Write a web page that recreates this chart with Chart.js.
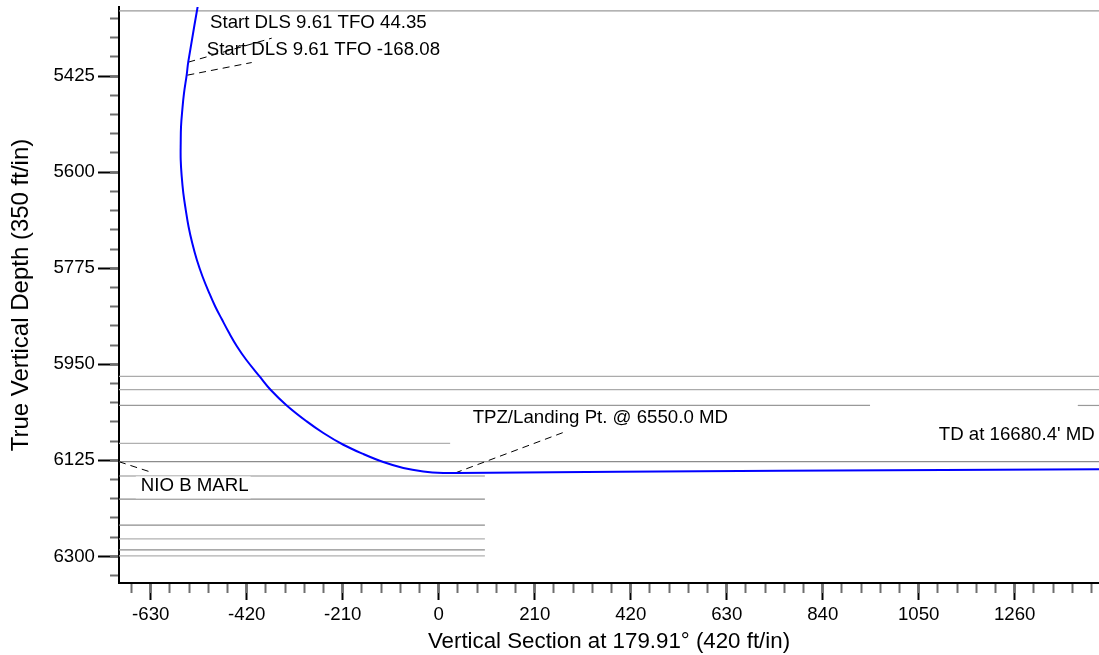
<!DOCTYPE html>
<html>
<head>
<meta charset="utf-8">
<title>Vertical Section</title>
<script src="https://cdn.jsdelivr.net/npm/chart.js@4.4.0/dist/chart.umd.min.js"></script>
<style>
  html, body { margin: 0; padding: 0; background: #fff; }
  #wrap { width: 1099px; height: 655px; position: relative; }
</style>
</head>
<body>
<div id="wrap"><canvas id="wellPlot"></canvas></div>
<script>
// wellbore path: vertical section (ft) and TVD (ft)
var pathVs  = [-521, -547.8, -551.3, -557.2, -560.9, -563.7, -564.4, -564.4, -562.2, -558.7,
               -553.4, -547.3, -539.2, -529.2, -516.7, -502.0, -488.9, -474.7, -458.7, -441.2,
               -421.1, -391.8, -367.9, -332.5, -288.8, -252.4, -208.7, -166.7, -121.2, -77.4,
               -33.7, 10.1, 39.4, 747, 1460];
var pathTvd = [5268, 5398.4, 5422.6, 5456, 5486.4, 5516.8, 5547, 5577.5, 5607.9, 5638.1,
               5668.5, 5698.9, 5729.2, 5759.6, 5790, 5820.2, 5844.7, 5867.6, 5892.6, 5917.5,
               5941.7, 5972.1, 5996.4, 6025, 6054.1, 6075.2, 6096.6, 6112.9, 6128.1, 6139,
               6145.2, 6148.1, 6148.1, 6144, 6141];

// formation tops (TVD) and horizontal extent (VS)
var formTvd  = [5306, 5972, 5996, 6025, 6025, 6094, 6127.5, 6153.5, 6195.5, 6243, 6268, 6288, 6299];
var formFrom = [-700, -700, -700, -700, 1398, -700, -700, -700, -700, -700, -700, -700, -700];
var formTo   = [1445, 1445, 1445, 943.5, 1445, 25, 1445, 101, 101, 101, 101, 101, 101];
var formShade = ['#9a9a9a', '#ababab', '#ababab', '#999', '#999', '#b0b0b0', '#8c8c8c',
                 '#8c8c8c', '#8c8c8c', '#8c8c8c', '#b0b0b0', '#8c8c8c', '#b0b0b0'];

// annotation leaders
var leadFromVs  = [-547.8, -549.9, 35.7, -699.4];
var leadFromTvd = [5399.5, 5423.2, 6148.1, 6127.5];
var leadToVs    = [-365.3, -409.1, 272.6, -627.8];
var leadToTvd   = [5355.8, 5400.2, 6074.2, 6147];

// annotation texts
var noteText  = ['Start DLS 9.61 TFO 44.35', 'Start DLS 9.61 TFO -168.08',
                 'TPZ/Landing Pt. @ 6550.0 MD', "TD at 16680.4' MD", 'NIO B MARL'];
var noteVs    = [-500.3, -507.5, 353.5, 1264.6, -533.8];
var noteTvd   = [5328.5, 5377.1, 6047.4, 6078.3, 6170.7];
var noteAlign = ['left', 'left', 'center', 'center', 'center'];
var noteBox   = [false, false, false, false, true];

// axes
var xTicks = [-630, -420, -210, 0, 210, 420, 630, 840, 1050, 1260];
var yTicks = [5425, 5600, 5775, 5950, 6125, 6300];
var xMin = -699.4, xMax = 1444.4;
var yMin = 5299, yMax = 6348.5;

var minorX = [], minorY = [];
for (var a = -672; a <= xMax; a += 42) minorX.push(a);
for (var b = 5320; b <= yMax; b += 35) minorY.push(b);

var fam = '"Liberation Sans", Arial, Helvetica, sans-serif';
var tickFont = { family: fam, size: 18.67 };

function pts(xs, ys) {
  return xs.map(function (v, i) { return { x: v, y: ys[i] }; });
}
function noPad(s) {
  s.paddingTop = 0; s.paddingBottom = 0; s.paddingLeft = 0; s.paddingRight = 0;
}
function plain(v) { return String(v); }

var datasets = [{
  data: pts(pathVs, pathTvd),
  borderColor: '#0000ff',
  borderWidth: 2,
  tension: 0.4,
  clip: 0
}];

for (var i = 0; i < leadFromVs.length; i++) {
  datasets.push({
    data: [{ x: leadFromVs[i], y: leadFromTvd[i] }, { x: leadToVs[i], y: leadToTvd[i] }],
    borderColor: '#000',
    borderWidth: 1,
    borderDash: [7, 5],
    tension: 0,
    clip: 0
  });
}

for (var k = 0; k < formTvd.length; k++) {
  datasets.push({
    data: [{ x: formFrom[k], y: formTvd[k] }, { x: formTo[k], y: formTvd[k] }],
    borderColor: formShade[k],
    borderWidth: 1.2,
    tension: 0,
    clip: 0
  });
}

var notesPlugin = {
  id: 'notes',
  afterDatasetsDraw: function (chart) {
    var ctx = chart.ctx;
    var xs = chart.scales.x, ys = chart.scales.y;
    ctx.save();
    ctx.font = '18.67px ' + fam;
    ctx.textBaseline = 'middle';
    for (var n = 0; n < noteText.length; n++) {
      var px = xs.getPixelForValue(noteVs[n]);
      var py = ys.getPixelForValue(noteTvd[n]);
      var w = ctx.measureText(noteText[n]).width;
      var left = noteAlign[n] === 'left' ? px : px - w / 2;
      if (noteBox[n]) {
        ctx.fillStyle = '#fff';
        ctx.fillRect(left - 5, py - 9, w + 7, 22);
      }
      ctx.fillStyle = '#000';
      ctx.textAlign = 'left';
      ctx.fillText(noteText[n], left, py);
    }
    ctx.restore();
  }
};

new Chart(document.getElementById('wellPlot'), {
  type: 'line',
  data: { datasets: datasets },
  options: {
    responsive: true,
    maintainAspectRatio: false,
    animation: false,
    layout: { padding: { top: 7, right: 0, bottom: 0, left: 0 } },
    elements: { point: { radius: 0, hoverRadius: 0 } },
    plugins: { legend: { display: false }, tooltip: { enabled: false } },
    events: [],
    scales: {
      x: {
        type: 'linear', position: 'bottom', weight: 1,
        min: xMin, max: xMax,
        afterBuildTicks: function (s) { s.ticks = xTicks.map(function (v) { return { value: v }; }); },
        afterFit: function (s) { s.height = 72; noPad(s); },
        grid: { drawOnChartArea: false, tickLength: 17, tickWidth: 2, tickColor: '#000' },
        border: { color: '#000', width: 2 },
        ticks: { color: '#000', font: tickFont, padding: 4, maxRotation: 0, autoSkip: false, callback: plain },
        title: { display: true, text: 'Vertical Section at 179.91\u00b0 (420 ft/in)', color: '#000',
                 font: { family: fam, size: 22.3 }, padding: { top: 0, bottom: 0 } }
      },
      xMinor: {
        type: 'linear', position: 'bottom', weight: 0,
        min: xMin, max: xMax,
        afterBuildTicks: function (s) { s.ticks = minorX.map(function (v) { return { value: v }; }); },
        afterFit: function (s) { s.height = 0; noPad(s); },
        grid: { drawOnChartArea: false, tickLength: 10, tickWidth: 2, tickColor: '#6e6e6e' },
        border: { display: false },
        ticks: { display: false }
      },
      y: {
        type: 'linear', position: 'left', weight: 1, reverse: true,
        min: yMin, max: yMax,
        afterBuildTicks: function (s) { s.ticks = yTicks.map(function (v) { return { value: v }; }); },
        afterFit: function (s) { s.width = 119; noPad(s); },
        grid: { drawOnChartArea: false, tickLength: 21, tickWidth: 2, tickColor: '#000' },
        border: { color: '#000', width: 2 },
        ticks: { color: '#000', font: tickFont, padding: 3, autoSkip: false, callback: plain },
        title: { display: true, text: 'True Vertical Depth (350 ft/in)', color: '#000',
                 font: { family: fam, size: 24 }, padding: { top: 6.5, bottom: 0 } }
      },
      yMinor: {
        type: 'linear', position: 'left', weight: 0, reverse: true,
        min: yMin, max: yMax,
        afterBuildTicks: function (s) { s.ticks = minorY.map(function (v) { return { value: v }; }); },
        afterFit: function (s) { s.width = 0; noPad(s); },
        grid: { drawOnChartArea: false, tickLength: 9, tickWidth: 2, tickColor: '#6e6e6e' },
        border: { display: false },
        ticks: { display: false }
      }
    }
  },
  plugins: [notesPlugin]
});
</script>
</body>
</html>
